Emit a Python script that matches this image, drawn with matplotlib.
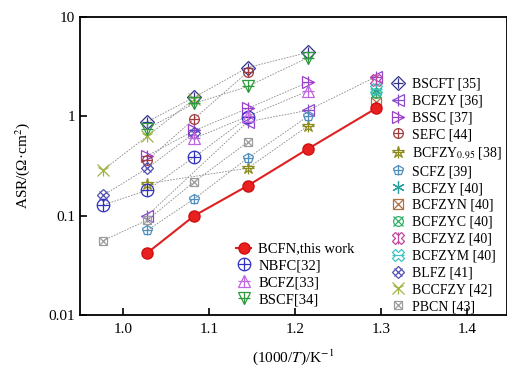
import numpy as np
import matplotlib
matplotlib.use("Agg")
import matplotlib.pyplot as plt
from matplotlib.legend_handler import HandlerTuple

plt.rcParams['font.family'] = ['Liberation Serif', 'DejaVu Serif']
plt.rcParams['mathtext.fontset'] = 'stix'
plt.rcParams['font.size'] = 10

nan = np.nan
# 1000/T for 750, 700, 650, 600, 550, 500 C
inv_t = [0.977, 1.028, 1.083, 1.145, 1.215, 1.294]

bcfn = [nan, 0.042, 0.10, 0.20, 0.47, 1.20]
nbfc = [0.128, 0.18, 0.39, 0.98, nan, nan]
bcfz = [nan, nan, 0.60, 1.0, 1.8, nan]
bscf = [nan, 0.75, 1.35, 2.0, 3.9, nan]
bscft = [nan, 0.88, 1.56, 3.1, 4.4, nan]
bcfzy36 = [nan, 0.10, nan, 0.88, 1.15, 2.5]
bssc = [nan, 0.40, 0.72, 1.2, 2.2, nan]
sefc = [nan, 0.36, 0.95, 2.8, nan, nan]
bcfzy095 = [nan, 0.21, nan, 0.30, 0.80, nan]
scfz = [nan, 0.071, 0.148, 0.38, 1.0, nan]
bcfzy40 = [nan, nan, nan, nan, nan, 1.8]
bcfzyn = [nan, nan, nan, nan, nan, 1.4]
bcfzyc = [nan, nan, nan, nan, nan, 1.7]
bcfzyz = [nan, nan, nan, nan, nan, 2.3]
bcfzym = [nan, nan, nan, nan, nan, 1.9]
blfz = [0.16, 0.30, 0.68, nan, nan, nan]
bccfzy = [0.29, 0.63, 1.5, nan, nan, nan]
pbcn = [0.056, 0.09, 0.22, 0.55, nan, nan]

fig = plt.figure(figsize=(5.07, 3.70), dpi=100)
ax = fig.add_axes([0.158, 0.149, 0.842, 0.805])


def series(y, color, marks, ms=8, line=True):
    x = np.array(inv_t)
    y = np.array(y)
    ok = ~np.isnan(y)
    if line and ok.sum() > 1:
        ax.plot(x[ok], y[ok], ls=(0, (2, 1.5)), color='#8a8a8a', lw=0.6, zorder=1)
    handles = []
    for m in marks:
        h, = ax.plot(x[ok], y[ok], ls='none', marker=m, ms=ms, mfc='none',
                     mec=color, mew=0.9, zorder=3)
        handles.append(h)
    return tuple(handles)


# reference data (gray dashed)
h_bscft = series(bscft, '#34348e', ['D', '+'], 7)
h_bcfzy36 = series(bcfzy36, '#8a4ccc', ['<', '+'])
h_bssc = series(bssc, '#9a3fc8', ['>', '+'])
h_sefc = series(sefc, '#a23c3c', ['o', '+'], 7)
h_095 = series(bcfzy095, '#8c8c1e', ['*', '+'], 9)
h_scfz = series(scfz, '#4f8fc0', ['p', '+'], 7)
h_b40 = series(bcfzy40, '#2aa0a0', [(6, 2, 0)], 9)
h_bn = series(bcfzyn, '#b27040', ['s', 'x'], 7)
h_bc = series(bcfzyc, '#2eb064', ['o', 'x'], 7)
h_bz = series(bcfzyz, '#c4449e', ['X', '|'], 8)
h_bm = series(bcfzym, '#3cc4c4', ['X', '_'], 8)
h_blfz = series(blfz, '#5050b4', ['D', 'x'], 6)
h_bcc = series(bccfzy, '#a2b240', ['x', '1'], 9)
h_pbcn = series(pbcn, '#9c9c9c', ['s', 'x'], 6)
h_nbfc = series(nbfc, '#2f2fc0', ['o', '+'], 9)
h_bcfz = series(bcfz, '#c066e0', ['^', '+'])
h_bscf = series(bscf, '#2e9a3e', ['v', '+'])

# this work
x = np.array(inv_t)
y = np.array(bcfn)
ok = ~np.isnan(y)
h_bcfn, = ax.plot(x[ok], y[ok], '-o', color='#e02020', lw=1.5, ms=8,
                  mfc='#e82020', mec='#d01010', zorder=4)

ax.set_yscale('log')
ax.set_ylim(0.01, 10)
ax.set_xlim(0.95, 1.4465)
ax.set_xticks([1.0, 1.1, 1.2, 1.3, 1.4])
ax.set_xticklabels(['1.0', '1.1', '1.2', '1.3', '1.4'])
ax.set_yticks([0.01, 0.1, 1, 10])
ax.set_yticklabels(['0.01', '0.1', '1', '10'])
ax.minorticks_off()
ax.tick_params(direction='in', length=5, width=1.2, labelsize=11)
ax.tick_params(axis='x', pad=6)
for s in ax.spines.values():
    s.set_linewidth(1.3)
ax.set_xlabel('(1000/$T$)/K$^{-1}$', fontsize=11, labelpad=8)
ax.set_ylabel('ASR/(Ω·cm$^2$)', fontsize=11, labelpad=12)

leg1 = ax.legend([h_bcfn, h_nbfc, h_bcfz, h_bscf],
                 ['BCFN,this work', 'NBFC[32]', 'BCFZ[33]', 'BSCF[34]'],
                 loc='lower left', bbox_to_anchor=(0.335, -0.015), frameon=False,
                 fontsize=10.5, handlelength=1.0, handletextpad=0.5, labelspacing=0.25,
                 handler_map={tuple: HandlerTuple(ndivide=1)})
ax.add_artist(leg1)

handles2 = [h_bscft, h_bcfzy36, h_bssc, h_sefc, h_095, h_scfz, h_b40, h_bn, h_bc,
            h_bz, h_bm, h_blfz, h_bcc, h_pbcn]
labels2 = ['BSCFT [35]', 'BCFZY [36]', 'BSSC [37]', 'SEFC [44]',
           'BCFZY$_{0.95}$ [38]', 'SCFZ [39]', 'BCFZY [40]', 'BCFZYN [40]',
           'BCFZYC [40]', 'BCFZYZ [40]', 'BCFZYM [40]', 'BLFZ [41]',
           'BCCFZY [42]', 'PBCN [43]']
ax.legend(handles2, labels2, loc='upper left', bbox_to_anchor=(0.715, 0.815),
          frameon=False, fontsize=10, handlelength=1.0, handletextpad=0.5,
          labelspacing=0.28, borderaxespad=0.0,
          handler_map={tuple: HandlerTuple(ndivide=1)})

fig.savefig('out.png', dpi=100)
